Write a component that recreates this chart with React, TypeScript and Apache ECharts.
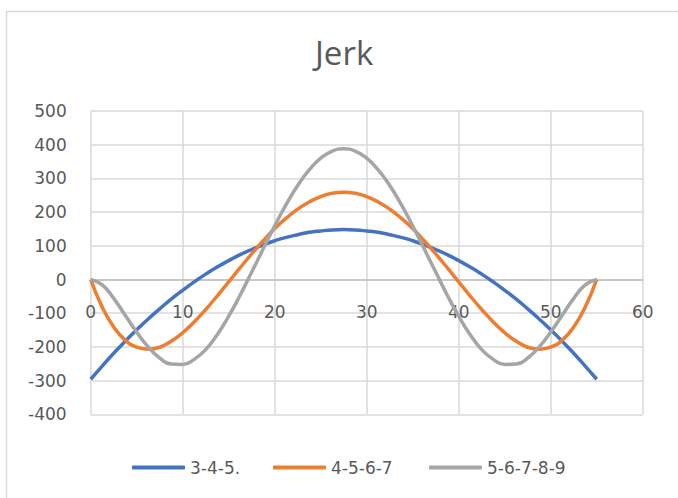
import React, { useEffect, useRef } from "react";
import * as echarts from "echarts";

const xs = [0, 1.25, 2.5, 3.75, 5, 6.25, 7.5, 8.75, 10, 11.25, 12.5, 13.75, 15, 16.25, 17.5, 18.75, 20, 21.25, 22.5, 23.75, 25, 26.25, 27.5, 28.75, 30, 31.25, 32.5, 33.75, 35, 36.25, 37.5, 38.75, 40, 41.25, 42.5, 43.75, 45, 46.25, 47.5, 48.75, 50, 51.25, 52.5, 53.75, 55];
const s345 = [-296, -257, -219, -183, -149, -117, -87, -58, -32, -7, 16, 37, 56, 74, 89, 103, 115, 125, 133, 140, 144, 147, 148, 147, 144, 140, 133, 125, 115, 103, 89, 74, 56, 37, 16, -7, -32, -58, -87, -117, -149, -183, -219, -257, -296];
const s4567 = [0, -82, -141, -180, -201, -207, -201, -183, -158, -126, -89, -49, -7, 35, 76, 115, 151, 182, 209, 230, 246, 256, 259, 256, 246, 230, 209, 182, 151, 115, 76, 35, -7, -49, -89, -126, -158, -183, -201, -207, -201, -180, -141, -82, 0];
const s56789 = [0, -16, -56, -106, -156, -200, -233, -251, -252, -237, -208, -164, -109, -46, 22, 91, 159, 223, 279, 325, 360, 381, 388, 381, 360, 325, 279, 223, 159, 91, 22, -46, -109, -164, -208, -237, -252, -251, -233, -200, -156, -106, -56, -16, 0];
const seriesNames = ["3-4-5.", "4-5-6-7", "5-6-7-8-9"];
const colors = ["#4472C4", "#ED7D31", "#A5A5A5"];
const title = "Jerk";
const yMin = -400;
const yMax = 500;

export default function App() {
  const ref = useRef<HTMLDivElement>(null);
  useEffect(() => {
    if (!ref.current) return;
    const chart = echarts.init(ref.current, null, { renderer: "svg" });
    const all = [s345, s4567, s56789];
    const axisFont = { fontFamily: "DejaVu Sans", fontSize: 17, color: "#595959" };
    const legendLefts = [127, 268, 424];
    const gridTop = 111;
    const gridBottom = 83.7;
    const plotH = 498 - gridTop - gridBottom;
    const zeroOffset = -plotH * (0 - yMin) / (yMax - yMin);
    chart.setOption({
      animation: false,
      backgroundColor: "#ffffff",
      title: {
        text: title,
        left: 310,
        top: 31,
        textStyle: { fontFamily: "Open Sans", fontSize: 33, fontWeight: "normal", color: "#595959" },
      },
      graphic: [
        {
          type: "rect",
          shape: { x: 6.5, y: 11.5, width: 700, height: 520 },
          style: { fill: "none", stroke: "#d9d9d9", lineWidth: 1.5 },
          silent: true,
        },
      ],
      legend: seriesNames.map((n, i) => ({
        data: [n],
        left: legendLefts[i],
        top: 454,
        icon: "roundRect",
        itemWidth: 53,
        itemHeight: 4,
        itemGap: 5,
        textStyle: { fontFamily: "DejaVu Sans", fontSize: 17, color: "#595959" },
      })),
      grid: { left: 90.7, right: 35.3, top: gridTop, bottom: gridBottom },
      xAxis: {
        type: "value",
        min: 0,
        max: 60,
        interval: 10,
        offset: zeroOffset,
        axisLine: { show: true, onZero: false, lineStyle: { color: "#bfbfbf", width: 1.5 } },
        axisTick: { show: false },
        axisLabel: { ...axisFont, margin: 24 },
        splitLine: { show: true, lineStyle: { color: "#d9d9d9", width: 1.5 } },
      },
      yAxis: {
        type: "value",
        min: yMin,
        max: yMax,
        interval: 100,
        axisLine: { show: false, onZero: false },
        axisTick: { show: false },
        axisLabel: { ...axisFont, margin: 24 },
        splitLine: { show: true, lineStyle: { color: "#d9d9d9", width: 1.5 } },
      },
      series: all.map((vals, i) => ({
        name: seriesNames[i],
        type: "line",
        smooth: true,
        symbol: "none",
        data: xs.map((x, j) => [x, vals[j]]),
        lineStyle: { color: colors[i], width: 3.5 },
        itemStyle: { color: colors[i] },
        z: 2 + i,
      })),
    });
    return () => chart.dispose();
  }, []);
  return <div ref={ref} style={{ width: 678, height: 498, position: "absolute", left: 0, top: 0 }} />;
}
